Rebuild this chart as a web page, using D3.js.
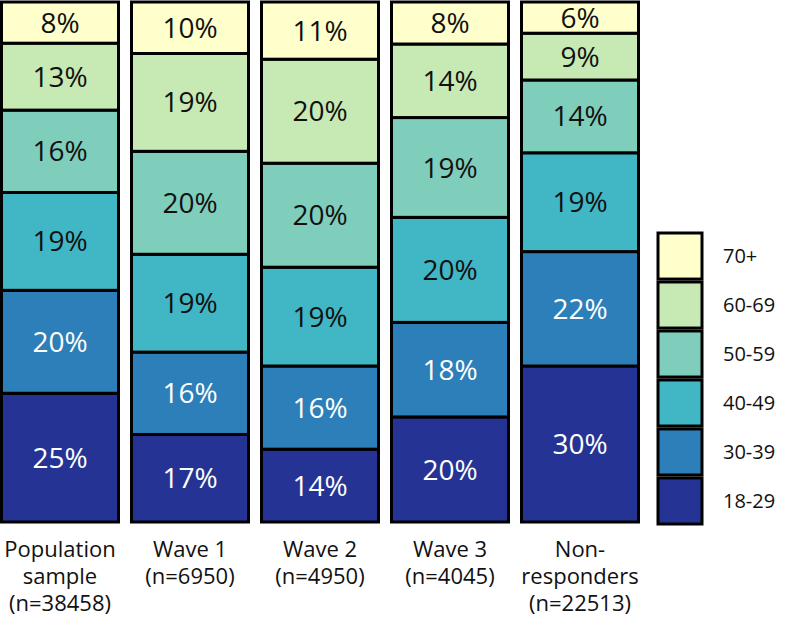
<!DOCTYPE html>
<html>
<head>
<meta charset="utf-8">
<script src="https://cdn.jsdelivr.net/npm/d3@7"></script>
<style>
  body { margin: 0; background: #fff; }
  text { font-family: "Open Sans", Lato, sans-serif; }
</style>
</head>
<body>
<svg id="chart" width="787" height="623"></svg>
<script>
// groups shown as bars (label lines)
var groups = ["Population sample", "Wave 1", "Wave 2", "Wave 3", "Non-responders"];
var groupLines = [
    ["Population", "sample", "(n=38458)"],
    ["Wave 1", "(n=6950)"],
    ["Wave 2", "(n=4950)"],
    ["Wave 3", "(n=4045)"],
    ["Non-", "responders", "(n=22513)"]
];

// age classes, bottom to top
var ages = ["18-29", "30-39", "40-49", "50-59", "60-69", "70+"];
var colors = ["#253494", "#2c7fb8", "#41b6c4", "#7fcdbb", "#c7e9b4", "#ffffcc"];

// percentages per group, same order as ages
var v18_29 = [25, 17, 14, 20, 30];
var v30_39 = [20, 16, 16, 18, 22];
var v40_49 = [19, 19, 19, 20, 19];
var v50_59 = [16, 20, 20, 19, 14];
var v60_69 = [13, 19, 20, 14, 9];
var v70    = [8, 10, 11, 8, 6];
var series = [v18_29, v30_39, v40_49, v50_59, v60_69, v70];

var data = groups.map(function(g, i) {
    var row = {group: g};
    ages.forEach(function(a, j) { row[a] = series[j][i]; });
    return row;
});

var svg = d3.select("#chart");

var x = d3.scaleBand()
    .domain(groups)
    .range([-5, 645])
    .paddingInner(0.1)
    .paddingOuter(0.05);

var y = d3.scaleLinear()
    .domain([0, 1])
    .range([522, 2]);

var color = d3.scaleOrdinal().domain(ages).range(colors);

// normalise each bar to 100%
var stacked = d3.stack()
    .keys(ages)
    .offset(d3.stackOffsetExpand)(data);

var layers = svg.append("g")
    .selectAll("g")
    .data(stacked)
    .enter()
    .append("g")
    .attr("fill", function(d) { return color(d.key); });

layers.selectAll("rect")
    .data(function(d) { return d; })
    .enter()
    .append("rect")
    .attr("x", function(d) { return x(d.data.group); })
    .attr("y", function(d) { return y(d[1]); })
    .attr("width", x.bandwidth())
    .attr("height", function(d) { return y(d[0]) - y(d[1]); })
    .attr("stroke", "#000")
    .attr("stroke-width", 3);

// value labels
layers.each(function(layer, li) {
    d3.select(this).selectAll("text")
        .data(layer)
        .enter()
        .append("text")
        .attr("x", function(d) { return x(d.data.group) + x.bandwidth() / 2; })
        .attr("y", function(d) { return (y(d[0]) + y(d[1])) / 2; })
        .attr("dy", "0.36em")
        .attr("text-anchor", "middle")
        .style("font-size", "28px")
        .attr("fill", li < 2 ? "#fff" : "#111")
        .text(function(d) { return d.data[layer.key] + "%"; });
});

// category labels under the bars
var cat = svg.append("g")
    .selectAll("text")
    .data(groups)
    .enter()
    .append("text")
    .attr("text-anchor", "middle")
    .attr("fill", "#111")
    .style("font-size", "22px")
    .attr("transform", function(d) { return "translate(" + (x(d) + x.bandwidth() / 2) + ",557)"; });

cat.selectAll("tspan")
    .data(function(d, i) { return groupLines[i]; })
    .enter()
    .append("tspan")
    .attr("x", 0)
    .attr("y", function(d, i) { return i * 27; })
    .text(function(d) { return d; });

// legend, 70+ at top
var legendY = d3.scaleBand()
    .domain(ages.slice().reverse())
    .range([233, 524])
    .paddingInner(0.06);

var legend = svg.append("g")
    .selectAll("g")
    .data(ages.slice().reverse())
    .enter()
    .append("g")
    .attr("transform", function(d) { return "translate(658," + legendY(d) + ")"; });

legend.append("rect")
    .attr("width", 44)
    .attr("height", legendY.bandwidth())
    .attr("fill", function(d) { return color(d); })
    .attr("stroke", "#000")
    .attr("stroke-width", 3);

legend.append("text")
    .attr("x", 65)
    .attr("y", legendY.bandwidth() / 2)
    .attr("dy", "0.36em")
    .attr("fill", "#111")
    .style("font-size", "20px")
    .text(function(d) { return d; });
</script>
</body>
</html>
